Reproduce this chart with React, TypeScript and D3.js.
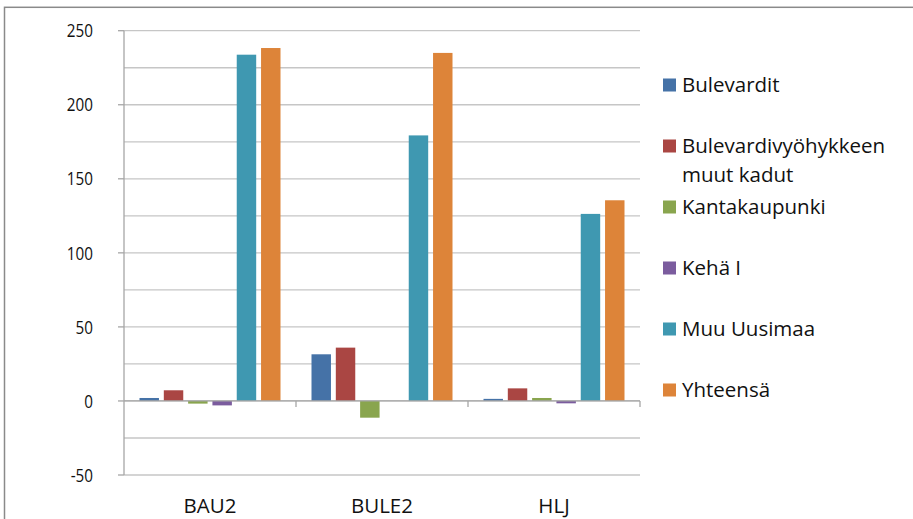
import React from "react";
import * as d3 from "d3";

const categories = ["BAU2", "BULE2", "HLJ"];
const seriesNames = ["Bulevardit", "Bulevardivyöhykkeen muut kadut", "Kantakaupunki", "Kehä I", "Muu Uusimaa", "Yhteensä"];
const legendLines = [["Bulevardit"], ["Bulevardivyöhykkeen", "muut kadut"], ["Kantakaupunki"], ["Kehä I"], ["Muu Uusimaa"], ["Yhteensä"]];
const bulevardit = [2.0, 31.5, 1.4];
const muutKadut = [7.2, 36, 8.5];
const kantakaupunki = [-1.8, -11.3, 2.0];
const kehaI = [-3.0, 0, -1.6];
const muuUusimaa = [233.8, 179.3, 126.3];
const yhteensa = [238.3, 235.0, 135.5];
const seriesValues = [bulevardit, muutKadut, kantakaupunki, kehaI, muuUusimaa, yhteensa];
const colors = ["#4572a7", "#aa4643", "#89a54e", "#7b5c9e", "#3f98b1", "#dd8439"];
const majorTicks = [-50, 0, 50, 100, 150, 200, 250];
const gridTicks = [-50, -25, 0, 25, 50, 75, 100, 125, 150, 175, 200, 225, 250];

export default function App() {
  const W = 913, H = 519;
  const left = 124, right = 640, top = 30.7, bottom = 475;
  const y = d3.scaleLinear().domain([-50, 250]).range([bottom, top]);
  const x0 = d3.scaleBand<string>().domain(categories).range([left, right]).padding(0);
  const bw = x0.bandwidth();
  const x1 = d3.scaleBand<number>().domain(d3.range(seriesNames.length)).range([15.5, bw - 15.5]).paddingInner(0.2).paddingOuter(0);
  const font = "'Open Sans', sans-serif";
  const legX = 663, legTop = 85, legPitch = 61, lineH = 28.5;

  return (
    <svg width={W} height={H} style={{ position: "absolute", left: 0, top: 0, background: "#fff" }}>
      <rect x={0} y={0} width={W} height={H} fill="#fff" />
      <rect x={4.5} y={7.3} width={1200} height={1200} fill="none" stroke="#8a8a8a" strokeWidth={1.5} />
      {gridTicks.map((t) => (
        <line key={"g" + t} x1={left} x2={right} y1={y(t)} y2={y(t)} stroke="#c6c6c6" strokeWidth={1.3} />
      ))}
      {categories.map((c, ci) => (
        <g key={c}>
          {seriesValues.map((vals, si) => {
            const v = vals[ci];
            const bx = (x0(c) as number) + (x1(si) as number);
            const y0 = y(0), yv = y(v);
            return (
              <rect key={si} x={bx} y={Math.min(y0, yv)} width={x1.bandwidth()} height={Math.abs(y0 - yv)} fill={colors[si]} />
            );
          })}
        </g>
      ))}
      <line x1={left} x2={left} y1={top} y2={bottom} stroke="#a6a6a6" strokeWidth={1.3} />
      <line x1={left} x2={right} y1={y(0)} y2={y(0)} stroke="#a6a6a6" strokeWidth={1.3} />
      {majorTicks.map((t) => (
        <g key={"t" + t}>
          <line x1={left - 6} x2={left} y1={y(t)} y2={y(t)} stroke="#a6a6a6" strokeWidth={1.3} />
          <text transform={`translate(93,${y(t)}) scale(0.82,1)`} textAnchor="end" dy="0.36em" fontFamily={font} fontSize={18.6} fill="#111">
            {t}
          </text>
        </g>
      ))}
      {categories.map((c) => (
        <line key={"ct" + c} x1={(x0(c) as number) + bw} x2={(x0(c) as number) + bw} y1={y(0)} y2={y(0) + 6} stroke="#a6a6a6" strokeWidth={1.3} />
      ))}
      {categories.map((c) => (
        <text key={"cl" + c} x={(x0(c) as number) + bw / 2} y={513} textAnchor="middle" fontFamily={font} fontSize={20.5} fill="#111">
          {c}
        </text>
      ))}
      {legendLines.map((lines, i) => {
        const cy = legTop + i * legPitch;
        return (
          <g key={"l" + i}>
            <rect x={legX} y={cy - 6.5} width={13} height={13} fill={colors[i]} />
            {lines.map((ln, li) => (
              <text key={li} x={682} y={cy + li * lineH} dy="0.36em" fontFamily={font} fontSize={20.5} fill="#111">
                {ln}
              </text>
            ))}
          </g>
        );
      })}
    </svg>
  );
}
